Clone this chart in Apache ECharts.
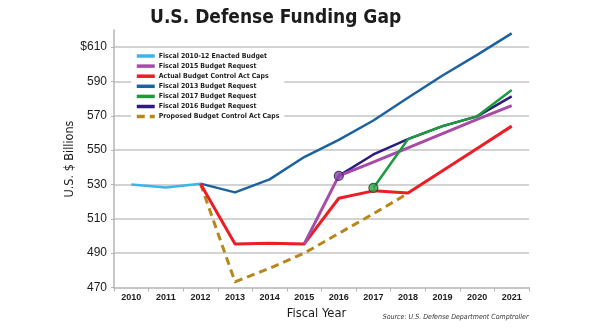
<!DOCTYPE html>
<html>
<head>
<meta charset="utf-8">
<script src="https://cdn.jsdelivr.net/npm/echarts@6/dist/echarts.min.js"></script>
<style>
  html, body { margin: 0; padding: 0; background: #fff; }
  #chart { width: 595px; height: 335px; }
</style>
</head>
<body>
<div id="chart"></div>
<script>
// Fiscal years on the category axis
const years = ['2010', '2011', '2012', '2013', '2014', '2015', '2016', '2017', '2018', '2019', '2020', '2021'];

// Budget lines, U.S. $ billions (null = no figure for that year)
const enacted2010to12 = [530, 528.3, 530.5, null, null, null, null, null, null, null, null, null];
const request2013     = [null, null, 530.5, 525.4, 533, 546, 556, 567.3, 580.5, 593.5, 605.5, 618];
const actualBcaCaps   = [null, null, 530.5, 495.4, 495.8, 495.4, 522, 526.3, 525, 538, 551, 564];
const proposedBcaCaps = [null, null, 530.5, 473.3, 481.2, 490, 501.5, 513, 524.8, null, null, null];
const request2015     = [null, null, null, null, null, 495.4, 535, 543, 551.3, 559.7, 568, 576];
const request2016     = [null, null, null, null, null, null, 535, 547.5, 556.4, 564, 569.7, 581.3];
const request2017     = [null, null, null, null, null, null, null, 528, 556.4, 564, 569.7, 585];

// Y axis ticks
const yMin = 470, yMax = 620, yStep = 20;

const seriesNames = [
  'Fiscal 2010-12 Enacted Budget',
  'Fiscal 2015 Budget Request',
  'Actual Budget Control Act Caps',
  'Fiscal 2013 Budget Request',
  'Fiscal 2017 Budget Request',
  'Fiscal 2016 Budget Request',
  'Proposed Budget Control Act Caps'
];

const colors = {
  enacted: '#3fb4e8',
  fy2015: '#a64ca8',
  actual: '#ee1c25',
  fy2013: '#1b62a0',
  fy2017: '#1d9a3c',
  fy2016: '#2b1c80',
  proposed: '#b8871c'
};

const textColor = '#1c1c1c';
const condensed = '"DejaVu Sans Condensed", "Liberation Sans Narrow", sans-serif';

function lineSeries(name, data, color, width, z, dashed) {
  return {
    name: name,
    type: 'line',
    data: data,
    z: z,
    symbol: 'none',
    showSymbol: false,
    connectNulls: false,
    animation: false,
    color: color,
    lineStyle: {
      color: color,
      width: width,
      type: dashed ? [8, 5] : 'solid',
      cap: 'butt',
      join: 'round'
    }
  };
}

// Marker where a request line starts from the previous line
function startMarker(data, idx, fill, border, z) {
  const pts = data.map((v, i) => (i === idx ? v : null));
  return {
    type: 'scatter',
    data: pts,
    z: z,
    symbol: 'circle',
    symbolSize: 9,
    animation: false,
    itemStyle: { color: fill, borderColor: border, borderWidth: 1.2 },
    silent: true
  };
}

const chart = echarts.init(document.getElementById('chart'), null, { renderer: 'canvas' });

chart.setOption({
  backgroundColor: '#ffffff',
  animation: false,
  title: {
    text: 'U.S. Defense Funding Gap',
    left: 150,
    top: 9,
    padding: 0,
    textStyle: {
      fontFamily: condensed,
      fontWeight: 'bold',
      fontSize: 19,
      color: textColor
    }
  },
  grid: { left: 114, right: 66, top: 30, bottom: 47.5, containLabel: false },
  legend: {
    orient: 'vertical',
    left: 131,
    top: 48,
    padding: [3, 5, 3, 4],
    backgroundColor: '#ffffff',
    itemWidth: 18,
    itemHeight: 10,
    itemGap: 0.1,
    data: seriesNames,
    itemStyle: { opacity: 0 },
    lineStyle: { width: 3.5 },
    textStyle: {
      fontFamily: condensed,
      fontWeight: 'bold',
      fontSize: 6.9,
      lineHeight: 10,
      color: textColor,
      padding: [0, 0, 0, -1]
    }
  },
  xAxis: {
    type: 'category',
    data: years,
    boundaryGap: true,
    axisLine: { show: true, lineStyle: { color: '#b4b4b4', width: 1.5 } },
    axisTick: { show: true, length: 4, lineStyle: { color: '#b4b4b4', width: 1 } },
    axisLabel: {
      margin: 6,
      fontFamily: '"Liberation Sans", Arial, sans-serif',
      fontWeight: 'bold',
      fontSize: 9,
      color: textColor
    },
    splitLine: { show: false }
  },
  yAxis: {
    type: 'value',
    min: yMin,
    max: yMax,
    interval: yStep,
    axisLine: { show: true, lineStyle: { color: '#b4b4b4', width: 1.5 } },
    axisTick: { show: true, length: 3, lineStyle: { color: '#b4b4b4', width: 1 } },
    axisLabel: {
      margin: 7,
      showMaxLabel: false,
      fontFamily: '"Liberation Sans", Arial, sans-serif',
      fontSize: 12,
      color: textColor,
      formatter: function (v) {
        if (v === yMax) return '';
        return v === 610 ? '$610' : String(v);
      }
    },
    splitLine: {
      show: true,
      showMinLine: false,
      showMaxLine: false,
      lineStyle: { color: '#c4c4c4', width: 1.5 }
    }
  },
  graphic: [
    {
      type: 'text',
      position: [70, 159],
      rotation: Math.PI / 2,
      style: {
        text: 'U.S. $ Billions',
        fontFamily: condensed,
        fontSize: 12.5,
        fill: textColor,
        align: 'center',
        verticalAlign: 'middle'
      },
      z: 10
    },
    {
      type: 'text',
      position: [316.5, 314],
      style: {
        text: 'Fiscal Year',
        fontFamily: condensed,
        fontSize: 12.8,
        fill: textColor,
        align: 'center',
        verticalAlign: 'middle'
      },
      z: 10
    },
    {
      type: 'text',
      position: [528.5, 317],
      style: {
        text: 'Source: U.S. Defense Department Comptroller',
        fontFamily: condensed,
        fontStyle: 'italic',
        fontSize: 7,
        fill: '#333333',
        align: 'right',
        verticalAlign: 'middle'
      },
      z: 10
    }
  ],
  series: [
    lineSeries(seriesNames[6], proposedBcaCaps, colors.proposed, 3, 2, true),
    lineSeries(seriesNames[0], enacted2010to12, colors.enacted, 2.5, 3),
    lineSeries(seriesNames[3], request2013, colors.fy2013, 2.5, 3),
    lineSeries(seriesNames[2], actualBcaCaps, colors.actual, 3, 4),
    lineSeries(seriesNames[5], request2016, colors.fy2016, 2.5, 5),
    lineSeries(seriesNames[1], request2015, colors.fy2015, 3, 6),
    lineSeries(seriesNames[4], request2017, colors.fy2017, 2.5, 7),
    startMarker(request2015, 6, '#8446a8', '#3b1d55', 8),
    startMarker(request2017, 7, '#2aa64a', '#1c4426', 8)
  ]
});
</script>
</body>
</html>
